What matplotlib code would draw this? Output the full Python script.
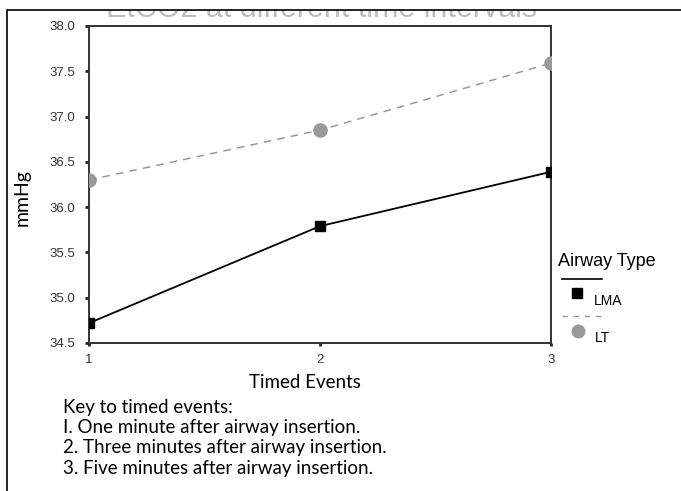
import matplotlib.pyplot as plt
from matplotlib.lines import Line2D
from matplotlib.patches import Rectangle

# chart values
events = [1, 2, 3]
lma = [34.72, 35.79, 36.39]
lt = [36.30, 36.85, 37.59]
y_ticks = [34.5, 35.0, 35.5, 36.0, 36.5, 37.0, 37.5, 38.0]
key_lines = [
    "Key to timed events:",
    "I. One minute after airway insertion.",
    "2. Three minutes after airway insertion.",
    "3. Five minutes after airway insertion.",
]

W, H = 681, 491


def fx(px):
    return px / W


def fy(py):
    return 1 - py / H


fig = plt.figure(figsize=(W / 100, H / 100), dpi=100)

# title strip: the original is cropped so only the bottom of the title shows
ax_t = fig.add_axes([0, fy(18), 1, fy(10) - fy(18)])
ax_t.set_axis_off()
ax_t.text(fx(322), fy(17), 'EtCO2 at different time intervals',
          transform=fig.transFigure, ha='center', va='baseline', fontsize=22,
          family='Liberation Sans', color='#bdbdbd', clip_on=True)

ax = fig.add_axes([fx(89), fy(343), fx(551) - fx(89), fy(26) - fy(343)])

ax.plot(events, lt, color='#999999', lw=1.1, ls=(0, (5, 4)),
        marker='o', ms=9.5, mfc='#999999', mec='#999999', zorder=3)
ax.plot(events, lma, color='black', lw=1.3,
        marker='s', ms=7.5, mfc='black', mec='black', zorder=4)

ax.set_xlim(1, 3)
ax.set_ylim(34.5, 38.0)
ax.set_xticks(events)
ax.set_yticks(y_ticks)
ax.set_yticklabels([f"{v:.1f}" for v in y_ticks])
for s in ax.spines.values():
    s.set_color('#333333')
    s.set_linewidth(1.4)
ax.tick_params(axis='y', direction='out', length=3, width=2, color='#222222',
               labelsize=9.5, pad=7)
ax.tick_params(axis='x', direction='out', length=2, width=2, color='#222222',
               labelsize=9.5, pad=6)
for lab in ax.get_xticklabels() + ax.get_yticklabels():
    lab.set_family('Liberation Sans')
    lab.set_color('#333333')

fig.text(fx(22), fy(198), 'mmHg', rotation=90, ha='center', va='center',
         fontsize=14, family='Lato')
fig.text(fx(305), fy(382), 'Timed Events', ha='center', va='center',
         fontsize=13.5, family='Lato')
for i, line in enumerate(key_lines):
    fig.text(fx(63), fy(407 + i * 20.5), line, ha='left', va='center',
             fontsize=13.5, family='Lato')

# outer frame
fig.add_artist(Rectangle((fx(7), fy(H + 5)), fx(W + 5) - fx(7), fy(10) - fy(H + 5),
                         transform=fig.transFigure, fill=False, lw=1.2,
                         edgecolor='black', zorder=5))

# legend
fig.text(fx(558), fy(262), 'Airway Type', ha='left', va='center',
         fontsize=13, family='Liberation Sans')
fig.add_artist(Line2D([fx(562), fx(602)], [fy(279), fy(279)],
                      transform=fig.transFigure, color='black', lw=1.2))
fig.add_artist(Line2D([fx(577)], [fy(293)], transform=fig.transFigure,
                      marker='s', ms=6.5, color='black', ls='none'))
fig.text(fx(594), fy(301), 'LMA', ha='left', va='center', fontsize=10,
         family='Liberation Sans')
fig.add_artist(Line2D([fx(562), fx(606)], [fy(316), fy(316)],
                      transform=fig.transFigure, color='#999999', lw=1,
                      ls=(0, (4, 4))))
fig.add_artist(Line2D([fx(578)], [fy(331)], transform=fig.transFigure,
                      marker='o', ms=9, color='#999999', ls='none'))
fig.text(fx(595), fy(338), 'LT', ha='left', va='center', fontsize=10,
         family='Liberation Sans')

fig.savefig('out.png', dpi=100)
